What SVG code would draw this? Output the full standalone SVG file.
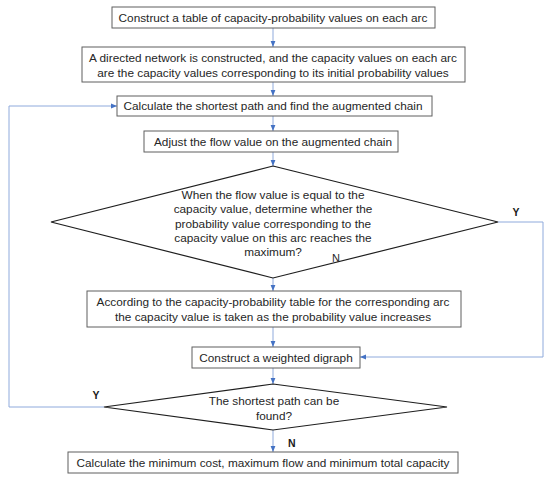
<svg xmlns="http://www.w3.org/2000/svg" width="550" height="480" viewBox="0 0 550 480">
  <style>
    .box { fill: #ffffff; stroke: #5f5f5f; stroke-width: 1; }
    .dia { fill: #ffffff; stroke: #1e1e1e; stroke-width: 1.2; }
    .t { font-family: "Liberation Sans", Arial, sans-serif; font-size: 11.8px; fill: #262626; text-anchor: middle; }
    .lbl { font-family: "Liberation Sans", Arial, sans-serif; font-size: 10.5px; font-weight: bold; fill: #1a1a1a; }
    .lbln { font-family: "Liberation Sans", Arial, sans-serif; font-size: 11px; fill: #262626; }
    .con { fill: none; stroke: #8faadc; stroke-width: 1; }
  </style>
  <defs>
    <marker id="arr" markerUnits="userSpaceOnUse" markerWidth="6" markerHeight="6" viewBox="0 0 6 6" refX="6" refY="3" orient="auto">
      <path d="M0,0.6 L6,3 L0,5.4 z" fill="#4472c4"/>
    </marker>
  </defs>
  <rect width="550" height="480" fill="#ffffff"/>

  <g id="connectors">
    <line class="con" x1="273" y1="28" x2="273" y2="47" marker-end="url(#arr)"/>
    <line class="con" x1="273" y1="82" x2="273" y2="96" marker-end="url(#arr)"/>
    <line class="con" x1="273" y1="116" x2="273" y2="131" marker-end="url(#arr)"/>
    <line class="con" x1="273" y1="152" x2="273" y2="166" marker-end="url(#arr)"/>
    <line class="con" x1="273" y1="278" x2="273" y2="291" marker-end="url(#arr)"/>
    <line class="con" x1="273" y1="327" x2="273" y2="347" marker-end="url(#arr)"/>
    <line class="con" x1="273" y1="368" x2="273" y2="384" marker-end="url(#arr)"/>
    <line class="con" x1="273" y1="430" x2="273" y2="452" marker-end="url(#arr)"/>
    <polyline class="con" points="498,222 543,222 543,357 360,357" marker-end="url(#arr)"/>
    <polyline class="con" points="104,407 9,407 9,106 117,106" marker-end="url(#arr)"/>
  </g>

  <g id="node1">
    <rect class="box" x="112" y="7" width="323" height="21"/>
    <text class="t" x="273" y="21.7">Construct a table of capacity-probability values on each arc</text>
  </g>
  <g id="node2">
    <rect class="box" x="82" y="47" width="383" height="35"/>
    <text class="t" x="273" y="61.5">A directed network is constructed, and the capacity values on each arc</text>
    <text class="t" x="273" y="76.5">are the capacity values corresponding to its initial probability values</text>
  </g>
  <g id="node3">
    <rect class="box" x="117" y="96" width="315" height="20"/>
    <text class="t" x="273" y="110">Calculate the shortest path and find the augmented chain</text>
  </g>
  <g id="node4">
    <rect class="box" x="144" y="131" width="254" height="21"/>
    <text class="t" x="273" y="145.5">Adjust the flow value on the augmented chain</text>
  </g>
  <g id="decision1">
    <polygon class="dia" points="273,166 498,222 273,278 51,222"/>
    <text class="t" x="273" y="198.5">When the flow value is equal to the</text>
    <text class="t" x="273" y="213">capacity value, determine whether the</text>
    <text class="t" x="273" y="227.5">probability value corresponding to the</text>
    <text class="t" x="273" y="242">capacity value on this arc reaches the</text>
    <text class="t" x="273" y="256">maximum?</text>
  </g>
  <g id="node5">
    <rect class="box" x="87" y="291" width="374" height="36"/>
    <text class="t" x="273" y="306">According to the capacity-probability table for the corresponding arc</text>
    <text class="t" x="273" y="321">the capacity value is taken as the probability value increases</text>
  </g>
  <g id="node6">
    <rect class="box" x="192" y="347" width="168" height="21"/>
    <text class="t" x="276" y="361.5">Construct a weighted digraph</text>
  </g>
  <g id="decision2">
    <polygon class="dia" points="273,384 447,407 273,430 104,407"/>
    <text class="t" x="274" y="405">The shortest path can be</text>
    <text class="t" x="274" y="419.7">found?</text>
  </g>
  <g id="node7">
    <rect class="box" x="68" y="452" width="390" height="21"/>
    <text class="t" x="263" y="467">Calculate the minimum cost, maximum flow and minimum total capacity</text>
  </g>

  <g id="labels">
    <text class="lbl" x="516" y="216" text-anchor="middle">Y</text>
    <text class="lbln" x="332" y="262">N</text>
    <text class="lbl" x="96" y="399" text-anchor="middle">Y</text>
    <text class="lbl" x="288" y="446.5">N</text>
  </g>
</svg>
